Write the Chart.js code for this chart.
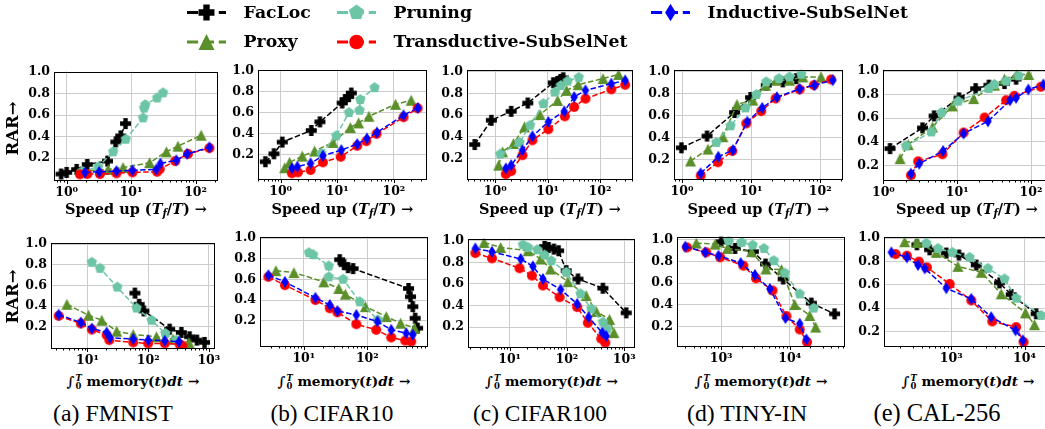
<!DOCTYPE html>
<html><head><meta charset="utf-8">
<script src="https://cdn.jsdelivr.net/npm/chart.js@4/dist/chart.umd.min.js"></script>
<style>
html,body{margin:0;padding:0;background:#fff;overflow:hidden;}
body{width:1045px;height:429px;position:relative;}
canvas{position:absolute;}
.t{position:absolute;white-space:nowrap;color:#000;line-height:1.15;}
.sb{font-family:'DejaVu Serif',serif;font-weight:bold;}
.cap{font-family:'Liberation Serif','Times New Roman',serif;}
.sub{font-size:70%;vertical-align:-0.3em;}
.ss{display:inline-block;vertical-align:middle;font-size:62%;line-height:1;text-align:left;margin-left:1px;}
.ss span{display:block;}
</style></head><body>
<script>
// ---------------- DATA ----------------
const SERIES = ['FacLoc','Proxy','Pruning','Transductive-SubSelNet','Inductive-SubSelNet'];
const DATASETS = ['FMNIST','CIFAR10','CIFAR100','TINY-IN','CAL-256'];
const CAPTIONS = ['(a) FMNIST','(b) CIFAR10','(c) CIFAR100','(d) TINY-IN','(e) CAL-256'];
const Y_TICKS = [0.2,0.4,0.6,0.8,1.0];
const SUPERSCRIPTS = ['⁰','¹','²','³','⁴','⁵'];

// top row: speed up (x) vs RAR (y)
const fmnistSpeedFacLoc = [[0.82,0.052],[1.0,0.067],[1.43,0.095],[2.09,0.141],[4.3,0.172],[5.8,0.351],[6.9,0.407],[8.2,0.521]];
const fmnistSpeedProxy = [[1.77,0.08],[4.4,0.095],[7.5,0.113],[19.4,0.157],[35.2,0.259],[53.3,0.311],[122,0.413]];
const fmnistSpeedPruning = [[1.71,0.073],[3.09,0.12],[5.27,0.259],[8.27,0.376],[15.3,0.574],[15.9,0.666],[16.6,0.697],[25.3,0.76],[31.3,0.808]];
const fmnistSpeedTrans = [[1.61,0.049],[2.09,0.052],[3.28,0.052],[5.93,0.058],[10.5,0.067],[25.3,0.073],[27.8,0.098],[48.3,0.172],[76,0.24],[164,0.293]];
const fmnistSpeedInd = [[1.92,0.067],[3.2,0.073],[5.93,0.079],[10.5,0.086],[24.6,0.095],[28.5,0.15],[50.3,0.18],[74.1,0.24],[164,0.3]];

const cifar10SpeedFacLoc = [[0.537,0.13],[0.763,0.206],[1.07,0.317],[3.48,0.428],[4.94,0.51],[12.2,0.69],[13.8,0.722],[15.9,0.751],[17.7,0.785]];
const cifar10SpeedProxy = [[1.18,0.073],[1.44,0.124],[2.41,0.184],[3.98,0.232],[8.39,0.314],[17,0.456],[23.8,0.5],[36.2,0.563],[107,0.677],[202,0.716]];
const cifar10SpeedPruning = [[5.22,0.209],[9.6,0.377],[16.1,0.599],[24.8,0.621],[25.5,0.722],[45.6,0.836]];
const cifar10SpeedTrans = [[1.58,0.02],[2.02,0.029],[3.38,0.051],[5.58,0.124],[11.5,0.177],[22.5,0.282],[32.5,0.326],[49.4,0.396],[148,0.554],[262,0.64]];
const cifar10SpeedInd = [[1.58,0.067],[1.97,0.083],[3.38,0.115],[5.58,0.187],[11.8,0.241],[22.5,0.298],[33.4,0.352],[50.2,0.409],[148,0.573],[265,0.643]];

const cifar100SpeedFacLoc = [[0.405,0.331],[0.84,0.553],[2.01,0.635],[4.17,0.711],[12.8,0.897],[15.5,0.909],[17.7,0.927],[19.8,0.942]];
const cifar100SpeedProxy = [[1.16,0.142],[1.38,0.264],[2.23,0.34],[3.61,0.492],[7.15,0.605],[15.5,0.735],[23,0.827],[38.2,0.879],[114,0.935],[226,0.973]];
const cifar100SpeedPruning = [[1.24,0.243],[2.9,0.349],[4.62,0.507],[8.27,0.705],[13.8,0.811],[17.9,0.872],[24,0.912],[39.3,0.946]];
const cifar100SpeedTrans = [[1.59,0.06],[2.01,0.087],[3.3,0.233],[5.11,0.37],[10.3,0.471],[21.3,0.589],[32.1,0.675],[52.7,0.751],[164,0.836],[302,0.878]];
const cifar100SpeedInd = [[1.59,0.112],[2.01,0.142],[3.3,0.279],[5.11,0.407],[10.3,0.538],[20.7,0.635],[32.1,0.766],[52.7,0.827],[164,0.888],[302,0.918]];

const tinySpeedFacLoc = [[0.98,0.306],[2.3,0.413],[5.77,0.629],[9.84,0.766],[16.6,0.878],[28.8,0.909],[45,0.939]];
const tinySpeedProxy = [[1.33,0.185],[2.38,0.294],[3.91,0.407],[6.24,0.702],[10.6,0.742],[16.2,0.878],[23.1,0.924],[36,0.924],[56.1,0.954],[103,0.954]];
const tinySpeedPruning = [[3.14,0.355],[5.05,0.507],[8.33,0.671],[11.9,0.793],[16.6,0.909],[25.3,0.939],[36,0.954],[53.1,0.979]];
const tinySpeedTrans = [[1.86,0.051],[3.31,0.173],[5.34,0.276],[8.51,0.529],[14,0.641],[22.6,0.757],[50.3,0.84],[81,0.879],[144,0.931]];
const tinySpeedInd = [[1.86,0.072],[3.35,0.224],[5.46,0.285],[8.8,0.544],[14.5,0.671],[23.6,0.769],[50.3,0.845],[82.6,0.878],[152,0.924]];

const calSpeedFacLoc = [[1.23,0.342],[3.39,0.518],[4.87,0.62],[10.6,0.773],[17.8,0.852],[26.9,0.881],[43.7,0.895],[62.8,0.932]];
const calSpeedProxy = [[1.68,0.257],[2.17,0.376],[4.63,0.526],[8.61,0.705],[16.7,0.767],[32,0.881],[43.7,0.932],[64.1,0.972],[93,0.972]];
const calSpeedPruning = [[2.02,0.365],[4.48,0.484],[6.12,0.648],[10.3,0.745],[26.9,0.852],[32,0.887],[46,0.915],[68.2,0.96]];
const calSpeedTrans = [[2.36,0.115],[2.96,0.234],[6.31,0.294],[12.2,0.478],[23.5,0.606],[46,0.753],[59.6,0.79],[136,0.867]];
const calSpeedInd = [[2.36,0.129],[3.06,0.214],[6.44,0.322],[12.2,0.47],[26.1,0.574],[52.1,0.753],[62.8,0.773],[92,0.844],[147,0.887]];

// bottom row: integrated memory (x) vs RAR (y)
const fmnistMemFacLoc = [[60.4,0.526],[71.1,0.418],[84.9,0.354],[226,0.178],[352,0.146],[482,0.104],[635,0.072],[849,0.05]];
const fmnistMemProxy = [[4.58,0.418],[10.4,0.312],[17.2,0.264],[30.3,0.158],[56.7,0.126],[137,0.104],[257,0.082],[470,0.05]];
const fmnistMemPruning = [[11.8,0.824],[16.1,0.766],[31,0.584],[64.4,0.382],[114,0.264],[192,0.136],[291,0.072]];
const fmnistMemTrans = [[3.35,0.306],[7.78,0.232],[11.8,0.174],[20.7,0.12],[22.9,0.072],[56.7,0.05],[100,0.04],[188,0.04],[330,0.031],[366,0.018]];
const fmnistMemInd = [[3.35,0.318],[7.78,0.242],[11.8,0.184],[20.7,0.146],[23.5,0.094],[56.7,0.082],[100,0.072],[188,0.066],[322,0.056]];

const cifar10MemFacLoc = [[36.7,0.792],[43,0.744],[49.7,0.715],[59.6,0.706],[446,0.514],[479,0.434],[520,0.338],[567,0.226],[620,0.13]];
const cifar10MemProxy = [[3.63,0.686],[6.97,0.667],[20.6,0.578],[35.5,0.514],[45.1,0.459],[93,0.338],[199,0.242],[334,0.178],[553,0.13]];
const cifar10MemPruning = [[12,0.859],[14,0.84],[24.7,0.731],[24.7,0.626],[41.5,0.603],[75.9,0.385],[147,0.21]];
const cifar10MemTrans = [[2.76,0.626],[5.03,0.546],[15.2,0.402],[25.6,0.322],[33.8,0.283],[67.1,0.168],[138,0.114],[238,0.04],[395,0.01],[491,0.0]];
const cifar10MemInd = [[2.76,0.642],[5.03,0.578],[15.2,0.424],[25.6,0.354],[33.8,0.296],[67.1,0.258],[144,0.194],[238,0.114],[410,0.082],[521,0.066]];

const cifar100MemFacLoc = [[40.8,0.948],[47.8,0.938],[59.3,0.923],[71.6,0.908],[97.2,0.723],[156,0.646],[425,0.56],[1084,0.332]];
const cifar100MemProxy = [[3.57,0.985],[6.97,0.938],[20.9,0.908],[34.8,0.831],[51.9,0.738],[104,0.621],[217,0.492],[325,0.345],[555,0.271],[661,0.148]];
const cifar100MemPruning = [[17.1,0.963],[20.9,0.938],[30.4,0.917],[40.8,0.868],[53.3,0.815],[97.2,0.708],[173,0.508],[266,0.369],[425,0.246],[505,0.185]];
const cifar100MemTrans = [[2.52,0.886],[4.92,0.837],[14.9,0.745],[24.5,0.677],[38.1,0.585],[74.5,0.477],[151,0.385],[232,0.24],[397,0.092],[467,0.055]];
const cifar100MemInd = [[2.52,0.929],[4.92,0.898],[15.6,0.831],[25.5,0.763],[38.1,0.646],[77.6,0.548],[151,0.415],[239,0.292],[413,0.148],[485,0.117]];

const tinyMemFacLoc = [[1000,0.982],[1596,0.92],[2945,0.89],[4436,0.776],[7998,0.638],[20600,0.415],[44900,0.316]];
const tinyMemProxy = [[434,0.969],[818,0.96],[1235,0.92],[2780,0.89],[4487,0.73],[7568,0.724],[11800,0.402],[19500,0.301],[23800,0.194]];
const tinyMemPruning = [[1277,0.991],[1993,0.976],[2876,0.951],[4199,0.92],[5863,0.807],[8470,0.693],[13960,0.5],[22300,0.369]];
const tinyMemTrans = [[318,0.929],[606,0.884],[968,0.838],[2108,0.761],[3214,0.644],[5610,0.531],[8950,0.295],[13960,0.172],[17830,0.056]];
const tinyMemInd = [[301,0.936],[586,0.884],[915,0.853],[1928,0.785],[3111,0.675],[5129,0.546],[8650,0.277],[13960,0.225],[17460,0.08]];

const calMemFacLoc = [[340,0.943],[507,0.9],[855,0.872],[1273,0.855],[2193,0.769],[4560,0.616],[6577,0.516],[14400,0.351]];
const calMemProxy = [[231,0.969],[340,0.963],[624,0.878],[1233,0.758],[2565,0.707],[4807,0.522],[10300,0.359],[13700,0.257]];
const calMemPruning = [[456,0.957],[658,0.912],[1032,0.878],[1778,0.835],[3162,0.741],[5336,0.65],[7690,0.485],[16900,0.337]];
const calMemTrans = [[174,0.863],[248,0.849],[362,0.798],[466,0.749],[949,0.607],[1874,0.465],[3622,0.285],[7690,0.237],[9680,0.109]];
const calMemInd = [[152,0.878],[248,0.835],[351,0.769],[433,0.741],[855,0.57],[1874,0.479],[3511,0.322],[7540,0.209],[9480,0.123]];

// ---------------- STYLE / LAYOUT ----------------
const STYLE = {
  'FacLoc':{color:'#000000',shape:'plus',size:11,order:4},
  'Proxy':{color:'#5a8f29',shape:'triangle',size:11,order:3},
  'Pruning':{color:'#6cc5a5',shape:'pentagon',size:11,order:2},
  'Transductive-SubSelNet':{color:'#ff0000',shape:'circle',size:10,order:1},
  'Inductive-SubSelNet':{color:'#0000ff',shape:'diamond',size:12,order:0}
};
const FONT = "'DejaVu Serif', serif";
const TICK_SIZE = 12.5;

const PANELS = [
  // top row
  {series:[fmnistSpeedFacLoc,fmnistSpeedProxy,fmnistSpeedPruning,fmnistSpeedTrans,fmnistSpeedInd], L:54,R:218,T:71,B:181, x0:-0.196,x1:2.34, y0:-0.013,y1:1.006},
  {series:[cifar10SpeedFacLoc,cifar10SpeedProxy,cifar10SpeedPruning,cifar10SpeedTrans,cifar10SpeedInd], L:258,R:427,T:69,B:180, x0:-0.40,x1:2.576, y0:-0.044,y1:1.009},
  {series:[cifar100SpeedFacLoc,cifar100SpeedProxy,cifar100SpeedPruning,cifar100SpeedTrans,cifar100SpeedInd], L:467,R:633,T:69,B:180, x0:-0.54,x1:2.62, y0:0.006,y1:1.018},
  {series:[tinySpeedFacLoc,tinySpeedProxy,tinySpeedPruning,tinySpeedTrans,tinySpeedInd], L:674,R:843,T:69,B:180, x0:-0.116,x1:2.323, y0:0.011,y1:1.022},
  {series:[calSpeedFacLoc,calSpeedProxy,calSpeedPruning,calSpeedTrans,calSpeedInd], L:883,R:1051,T:69,B:181, x0:-0.005,x1:2.264, y0:0.067,y1:1.014},
  // bottom row
  {series:[fmnistMemFacLoc,fmnistMemProxy,fmnistMemPruning,fmnistMemTrans,fmnistMemInd], L:51,R:215,T:242,B:349, x0:0.399,x1:3.093, y0:-0.014,y1:1.015},
  {series:[cifar10MemFacLoc,cifar10MemProxy,cifar10MemPruning,cifar10MemTrans,cifar10MemInd], L:260,R:428,T:236,B:347, x0:0.309,x1:2.948, y0:-0.052,y1:1.016},
  {series:[cifar100MemFacLoc,cifar100MemProxy,cifar100MemPruning,cifar100MemTrans,cifar100MemInd], L:468,R:635,T:238,B:348, x0:0.273,x1:3.18, y0:0.006,y1:1.021},
  {series:[tinyMemFacLoc,tinyMemProxy,tinyMemPruning,tinyMemTrans,tinyMemInd], L:677,R:845,T:236,B:347, x0:2.357,x1:4.797, y0:0.01,y1:1.03},
  {series:[calMemFacLoc,calMemProxy,calMemPruning,calMemTrans,calMemInd], L:884,R:1052,T:236,B:347, x0:2.082,x1:4.368, y0:0.066,y1:1.014}
];

// ---------------- MARKERS ----------------
function drawShape(ctx, shape, cx, cy, s, color){
  ctx.fillStyle = color;
  ctx.beginPath();
  const h = s/2;
  if (shape==='circle'){ ctx.arc(cx,cy,h,0,Math.PI*2); }
  else if (shape==='triangle'){ ctx.moveTo(cx,cy-h); ctx.lineTo(cx+h,cy+h); ctx.lineTo(cx-h,cy+h); ctx.closePath(); }
  else if (shape==='pentagon'){ for(let i=0;i<5;i++){const a=-Math.PI/2+i*2*Math.PI/5; const x=cx+h*Math.cos(a), y=cy+h*Math.sin(a); i?ctx.lineTo(x,y):ctx.moveTo(x,y);} ctx.closePath(); }
  else if (shape==='diamond'){ const w=h*0.62; ctx.moveTo(cx,cy-h); ctx.lineTo(cx+w,cy); ctx.lineTo(cx,cy+h); ctx.lineTo(cx-w,cy); ctx.closePath(); }
  else if (shape==='plus'){ const t=s*0.2; ctx.moveTo(cx-t,cy-h); ctx.lineTo(cx+t,cy-h); ctx.lineTo(cx+t,cy-t); ctx.lineTo(cx+h,cy-t); ctx.lineTo(cx+h,cy+t); ctx.lineTo(cx+t,cy+t); ctx.lineTo(cx+t,cy+h); ctx.lineTo(cx-t,cy+h); ctx.lineTo(cx-t,cy+t); ctx.lineTo(cx-h,cy+t); ctx.lineTo(cx-h,cy-t); ctx.lineTo(cx-t,cy-t); ctx.closePath(); }
  ctx.fill();
}
function markerImage(name){
  const st = STYLE[name]; const W = Math.ceil(st.size)+2;
  const c = document.createElement('canvas'); c.width=W; c.height=W;
  drawShape(c.getContext('2d'), st.shape, W/2, W/2, st.size, st.color);
  return c;
}
const MARKERS = {}; SERIES.forEach(n=>MARKERS[n]=markerImage(n));

// ---------------- PLUGIN: frame + tick marks ----------------
const framePlugin = {
  id:'frame',
  afterDatasetsDraw(chart){
    const {ctx, chartArea:a} = chart; const x = chart.scales.x;
    ctx.save();
    ctx.strokeStyle='#000'; ctx.lineWidth=1;
    const l=Math.round(a.left)+0.5, t=Math.round(a.top)+0.5, r=Math.round(a.right)-0.5, b=Math.round(a.bottom)-0.5;
    ctx.strokeRect(l,t,r-l,b-t);
    const lo=Math.floor(Math.log10(x.min)), hi=Math.ceil(Math.log10(x.max));
    for(let k=lo;k<=hi;k++) for(let m=1;m<10;m++){
      const v=m*Math.pow(10,k); if(v<x.min||v>x.max) continue;
      const px=Math.round(x.getPixelForValue(v))+0.5; const len=(m===1)?3.5:2;
      ctx.beginPath(); ctx.moveTo(px,b); ctx.lineTo(px,b+len); ctx.stroke();
    }
    ctx.restore();
  }
};

// ---------------- CHARTS ----------------
const YW=44, XH=24, PT=6, PR=6;
function majors(x0,x1){ const out=[]; for(let k=Math.ceil(x0-1e-9);k<=Math.floor(x1+1e-9);k++) out.push({value:Math.pow(10,k)}); return out; }
PANELS.forEach(p=>{
  const cv=document.createElement('canvas');
  const cw=(p.R-p.L)+YW+PR, ch=(p.B-p.T)+PT+XH;
  cv.width=cw; cv.height=ch; cv.style.left=(p.L-YW)+'px'; cv.style.top=(p.T-PT)+'px';
  document.body.appendChild(cv);
  const datasets = SERIES.map((name,i)=>({
    label:name, data:p.series[i].map(d=>({x:d[0],y:d[1]})),
    borderColor:STYLE[name].color, backgroundColor:STYLE[name].color,
    borderWidth:1.5, borderDash:[5.5,2.4], tension:0, fill:false,
    pointStyle:MARKERS[name], pointRadius:5, order:STYLE[name].order
  }));
  new Chart(cv,{
    type:'line',
    data:{datasets},
    options:{
      responsive:false, animation:false, devicePixelRatio:1, events:[],
      layout:{padding:{left:0,top:PT,right:PR,bottom:0}},
      plugins:{legend:{display:false},tooltip:{enabled:false}},
      scales:{
        x:{type:'logarithmic', min:Math.pow(10,p.x0), max:Math.pow(10,p.x1), bounds:'data',
           afterBuildTicks(s){ s.ticks = majors(p.x0,p.x1); },
           afterFit(s){ s.height=XH; s.paddingLeft=0; s.paddingRight=0; },
           ticks:{autoSkip:false,maxRotation:0,minRotation:0,padding:4,color:'#000',
                  font:{family:FONT,weight:'bold',size:TICK_SIZE},
                  callback:(v)=>'10'+SUPERSCRIPTS[Math.round(Math.log10(v))]},
           grid:{color:'#cccccc',lineWidth:1,drawTicks:false}, border:{display:false}},
        y:{type:'linear', min:p.y0, max:p.y1, bounds:'data',
           afterBuildTicks(s){ s.ticks = Y_TICKS.map(v=>({value:v})); },
           afterFit(s){ s.width=YW; s.paddingTop=0; s.paddingBottom=0; },
           ticks:{padding:4,color:'#000',font:{family:FONT,weight:'bold',size:TICK_SIZE},
                  callback:(v)=>v.toFixed(1)},
           grid:{color:'#cccccc',lineWidth:1,drawTicks:false}, border:{display:false}}
      }
    },
    plugins:[framePlugin]
  });
});

// ---------------- TEXT ----------------
function placeText(html, cls, cx, cy, targetW, rot, fixedSize){
  const d=document.createElement('div'); d.className='t '+cls; d.innerHTML=html;
  document.body.appendChild(d);
  let fs=fixedSize;
  if(!fs){ d.style.fontSize='100px'; fs=100*targetW/d.offsetWidth; }
  d.style.fontSize=fs+'px';
  const W=d.offsetWidth, H=d.offsetHeight;
  if(cx===null){ d.style.left=targetW+'px'; } else d.style.left=(cx-W/2)+'px';
  d.style.top=(cy-H/2)+'px';
  if(rot) d.style.transform='rotate(-90deg)';
  return fs;
}
const speedTitle = 'Speed up (<i>T<span class="sub">f</span></i>/<i>T</i>) →';
const memTitle = '∫<span class="ss"><span><i>T</i></span><span>0</span></span> memory(<i>t</i>)<i>dt</i> →';
PANELS.forEach((p,i)=>{
  const cx=(p.L+p.R)/2;
  if(i<5) placeText(speedTitle,'sb',Math.min(cx,1045),210,142);
  else placeText(memTitle,'sb',cx,382,132);
});
placeText('RAR→','sb',13.5,128,54,true);
placeText('RAR→','sb',13.5,296,54,true);
const CAP_X=[113,332,540,747,937], CAP_W=[120,123,134,120,127];
CAPTIONS.forEach((c,i)=>placeText(c,'cap',CAP_X[i],413,CAP_W[i]));

// ---------------- LEGEND ----------------
const LEGEND = [['FacLoc',0,0],['Pruning',1,0],['Inductive-SubSelNet',2,0],['Proxy',0,1],['Transductive-SubSelNet',1,1]];
const LEG_X=[187,337,651], LEG_Y=[12.5,42];
const lc=document.createElement('canvas'); lc.width=1045; lc.height=60; lc.style.left='0px'; lc.style.top='0px';
document.body.appendChild(lc);
const lctx=lc.getContext('2d');
const tmp=document.createElement('div'); tmp.className='t sb'; tmp.style.fontSize='100px'; tmp.textContent='Transductive-SubSelNet'; document.body.appendChild(tmp);
const legFs=100*234/tmp.offsetWidth; tmp.remove();
LEGEND.forEach(([name,col,row])=>{
  const x0=LEG_X[col], y=LEG_Y[row], st=STYLE[name];
  lctx.save(); lctx.strokeStyle=st.color; lctx.lineWidth=3; lctx.setLineDash([11.1,4.8]);
  lctx.beginPath(); lctx.moveTo(x0,y); lctx.lineTo(x0+39,y); lctx.stroke(); lctx.restore();
  drawShape(lctx, st.shape, x0+19.5, y, st.size*1.45, st.color);
  placeText(name,'sb',null,y,x0+56.6,false,legFs);
});
</script>
</body></html>
